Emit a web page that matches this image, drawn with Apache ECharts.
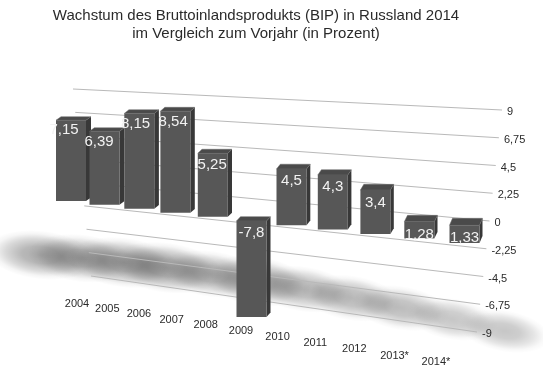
<!DOCTYPE html>
<html><head><meta charset="utf-8">
<script src="https://cdn.jsdelivr.net/npm/echarts@6/dist/echarts.min.js"></script>
<style>html,body{margin:0;padding:0;background:#fff}#c{width:543px;height:368px}</style>
</head><body><div id="c"></div>
<script>
// ---- data ----
const titleLines = ['Wachstum des Bruttoinlandsprodukts (BIP) in Russland 2014', 'im Vergleich zum Vorjahr (in Prozent)'];
const years = ['2004','2005','2006','2007','2008','2009','2010','2011','2012','2013*','2014*'];
const growth = [7.15, 6.39, 8.15, 8.54, 5.25, -7.8, 4.5, 4.3, 3.4, 1.28, 1.33];
const tickValues = [9, 6.75, 4.5, 2.25, 0, -2.25, -4.5, -6.75, -9];
const tickLabels = ['9', '6,75', '4,5', '2,25', '0', '-2,25', '-4,5', '-6,75', '-9'];

const FONT = '"Liberation Sans", "Helvetica Neue", Arial, sans-serif';

// ---- perspective helpers (applied to coordinates produced by the axes) ----
function norm(pt, cs) {
  return { u: (pt[0] - cs.x) / cs.width, f: (cs.y + cs.height - pt[1]) / cs.height };
}
function barGeom(u) {
  return {
    xc: 71 + 328.5 * u + 65 * u * u,
    y0: 201 + 38 * u + 4 * u * u,
    k: 11.3 + 2 * u,
    w: 30,
    dx: 5 - 2 * u,
    dy: -(3.5 + 3.5 * u * u)
  };
}
function wall(t) { // t: 0 at top (9), 1 at bottom (-9)
  return { x1: 73 + 18 * t, y1: 89 + 187 * t, x2: 502 - 25 * t, y2: 110 + 222 * t };
}

const chart = echarts.init(document.getElementById('c'), null, { renderer: 'canvas' });
chart.setOption({
  animation: false,
  backgroundColor: '#ffffff',
  title: {
    text: titleLines.join('\n'),
    left: 251, top: 2, textAlign: 'center',
    textStyle: { fontFamily: FONT, fontSize: 15, fontWeight: 'normal', color: '#2a2a2a', lineHeight: 18 }
  },
  grid: { left: 60, right: 60, top: 60, bottom: 60 },
  xAxis: { type: 'category', data: years, boundaryGap: false, show: false },
  yAxis: { type: 'value', min: -9, max: 9, interval: 2.25, show: false },
  series: [
    { // floor shadows
      type: 'custom', z: 1, silent: true,
      data: growth.map((v, i) => [i, v]),
      renderItem: function (params, api) {
        const cs = params.coordSys;
        const p = api.coord([api.value(0), api.value(1)]);
        const n = norm(p, cs);
        const u = n.u;
        const g = barGeom(u);
        const v = Math.abs(api.value(1));
        const cx = g.xc - 30 + 70 * u;
        const cy = g.y0 + 54 - 10 * u + 44 * u * u;
        const a = 0.2 + 0.018 * v;
        const rx = 44 + 1.5 * v, ry = 20 + 0.6 * v;
        return {
          type: 'circle', x: cx, y: cy, scaleX: rx / 50, scaleY: ry / 50, rotation: -(0.11 + 0.07 * u),
          shape: { cx: 0, cy: 0, r: 50 },
          style: { fill: { type: 'radial', x: 0.5, y: 0.5, r: 0.5, colorStops: [
            { offset: 0, color: 'rgba(0,0,0,' + a + ')' },
            { offset: 0.35, color: 'rgba(0,0,0,' + (a * 0.85) + ')' },
            { offset: 0.65, color: 'rgba(0,0,0,' + (a * 0.45) + ')' },
            { offset: 0.85, color: 'rgba(0,0,0,' + (a * 0.12) + ')' },
            { offset: 1, color: 'rgba(0,0,0,0)' }] } }
        };
      }
    },
    { // back-wall grid lines and right-hand tick labels
      type: 'custom', z: 2, silent: true,
      data: tickValues.map((v, j) => [0, v, j]),
      renderItem: function (params, api) {
        const cs = params.coordSys;
        const p = api.coord([api.value(0), api.value(1)]);
        const t = 1 - norm(p, cs).f;
        const w = wall(t);
        return {
          type: 'group', children: [
            { type: 'line', shape: { x1: w.x1, y1: w.y1, x2: w.x2, y2: w.y2 }, style: { stroke: '#b9b9b9', lineWidth: 1 } },
            { type: 'text', x: w.x2 + 5, y: w.y2 + 2, style: { text: tickLabels[api.value(2)], fill: '#2a2a2a', font: '11px ' + FONT, align: 'left', verticalAlign: 'middle' } }
          ]
        };
      }
    },
    { // 3D bars
      type: 'custom', z: 3, silent: true,
      data: growth.map((v, i) => [i, v]),
      renderItem: function (params, api) {
        const cs = params.coordSys;
        const p = api.coord([api.value(0), api.value(1)]);
        const n = norm(p, cs);
        const val = -9 + 18 * n.f;
        const g = barGeom(n.u);
        const xl = g.xc - g.w / 2, xr = g.xc + g.w / 2;
        const yv = g.y0 - g.k * val;
        const yTop = Math.min(yv, g.y0), yBot = Math.max(yv, g.y0);
        const dx = g.dx, dy = g.dy;
        const lab = String(api.value(1)).replace('.', ',');
        const lx = g.xc + Math.min(0, -7 + 16 * n.u);
        const ly = yTop + 10 + 3 * n.u;
        return {
          type: 'group', children: [
            { type: 'polygon', shape: { points: [[xr, yTop], [xr + dx, yTop + dy], [xr + dx, yBot + dy], [xr, yBot]] }, style: { fill: '#383838' } },
            { type: 'polygon', shape: { points: [[xl, yTop], [xl + dx, yTop + dy], [xr + dx, yTop + dy], [xr, yTop]] }, style: { fill: '#4a4a4a', stroke: '#6a6a6a', lineWidth: 0.5 } },
            { type: 'rect', shape: { x: xl, y: yTop, width: g.w, height: yBot - yTop }, style: { fill: '#575757' } },
            { type: 'text', x: lx, y: ly, style: { text: lab, fill: '#f2f2f2', font: '15px ' + FONT, align: 'center', verticalAlign: 'middle' } }
          ]
        };
      }
    },
    { // category labels along the floor
      type: 'custom', z: 4, silent: true,
      data: years.map((y, i) => [i, -9]),
      renderItem: function (params, api) {
        const cs = params.coordSys;
        const p = api.coord([api.value(0), api.value(1)]);
        const u = norm(p, cs).u;
        return {
          type: 'text', x: 77 + 297 * u + 62 * u * u, y: 304 + 50 * u + 8 * u * u,
          style: { text: years[api.value(0)], fill: '#2a2a2a', font: '11px ' + FONT, align: 'center', verticalAlign: 'middle' }
        };
      }
    }
  ]
});
</script>
</body></html>
